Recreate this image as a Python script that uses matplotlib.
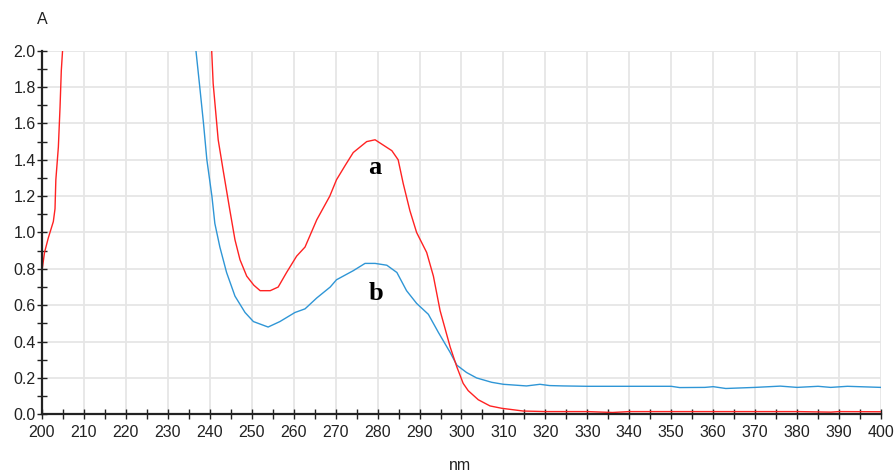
import numpy as np
import matplotlib
matplotlib.use('Agg')
import matplotlib.pyplot as plt
from matplotlib.ticker import MultipleLocator

# curve a (red)
nm_a = [200.0, 200.6, 201.5, 202.7, 203.1, 203.3, 203.9, 204.3, 204.6, 204.9, np.nan,
        240.45, 240.8, 242.0, 243.2, 244.8, 246.0, 247.2, 248.8, 250.5, 252.0, 254.4,
        256.3, 258.3, 260.7, 262.7, 265.5, 268.6, 270.2, 272.3, 274.2, 275.8, 277.4, 279.4,
        281.4, 283.4, 284.9, 286.1, 287.7, 289.3, 291.7, 293.3, 294.9, 297.3, 298.9,
        300.4, 301.6, 304.0, 306.8, 309.6, 314.7, 320, 330, 336, 340, 350, 360, 370,
        380, 388, 390, 400]
abs_a = [0.79, 0.89, 0.97, 1.06, 1.13, 1.29, 1.47, 1.69, 1.89, 2.0, np.nan,
         2.0, 1.82, 1.51, 1.34, 1.12, 0.96, 0.85, 0.76, 0.71, 0.68, 0.68,
         0.70, 0.78, 0.87, 0.92, 1.07, 1.20, 1.29, 1.37, 1.44, 1.47, 1.50, 1.51,
         1.48, 1.45, 1.40, 1.27, 1.12, 1.0, 0.89, 0.76, 0.57, 0.37, 0.26,
         0.17, 0.13, 0.08, 0.046, 0.033, 0.018, 0.015, 0.015, 0.010, 0.015, 0.015, 0.015, 0.015,
         0.015, 0.012, 0.015, 0.014]

# curve b (blue)
nm_b = [236.7, 237.7, 238.5, 239.3, 240.5, 241.2, 242.4, 244.0, 246.0, 248.4, 250.4,
        253.9, 256.7, 260.3, 262.7, 265.5, 268.7, 270.2, 274.2, 277.0, 279.4, 282.2,
        284.6, 286.9, 289.3, 292.1, 294.5, 297.3, 298.9, 301.2, 303.6, 307.2, 310.0,
        315.5, 318.7, 321, 324.3, 330, 340, 350, 352, 358, 360, 363, 370, 376, 380,
        385, 388, 392, 400]
abs_b = [2.0, 1.78, 1.60, 1.40, 1.20, 1.05, 0.92, 0.78, 0.65, 0.56, 0.51,
         0.48, 0.51, 0.56, 0.58, 0.64, 0.70, 0.74, 0.79, 0.83, 0.83, 0.82,
         0.78, 0.68, 0.61, 0.55, 0.45, 0.34, 0.27, 0.23, 0.20, 0.176, 0.165,
         0.156, 0.165, 0.158, 0.156, 0.154, 0.154, 0.154, 0.147, 0.148, 0.152, 0.142, 0.148, 0.155, 0.148,
         0.154, 0.148, 0.154, 0.148]

fig = plt.figure(figsize=(8.96, 4.73), dpi=100)
ax = fig.add_axes([42/896, 1-414.3/473, 839/896, 363.6/473])

ax.plot(nm_b, abs_b, color='#2f96d6', lw=1.0)
ax.plot(nm_a, abs_a, color='#ff2222', lw=1.0)

ax.set_xlim(200, 400)
ax.set_ylim(0, 2.0)
ax.xaxis.set_major_locator(MultipleLocator(10))
ax.xaxis.set_minor_locator(MultipleLocator(5))
ax.yaxis.set_major_locator(MultipleLocator(0.2))
ax.yaxis.set_minor_locator(MultipleLocator(0.1))
ax.yaxis.set_major_formatter(plt.FuncFormatter(lambda v, p: '%.1f' % v))

ax.grid(True, which='major', color='#e6e6e6', lw=1.3)
ax.set_axisbelow(True)
for s in ['top', 'right']:
    ax.spines[s].set_visible(False)
for s in ['left', 'bottom']:
    ax.spines[s].set_color('#222222')
    ax.spines[s].set_linewidth(1.6)
ax.tick_params(which='both', direction='inout', length=7, width=1, color='#222222',
               labelsize=11.5, labelcolor='#222222')
for lab in ax.get_xticklabels() + ax.get_yticklabels():
    lab.set_family('Liberation Sans')
ax.tick_params(axis='x', pad=4)
ax.tick_params(axis='y', pad=1)

ax.text(279.4, 1.355, 'a', family='Liberation Serif', fontweight='bold', fontsize=19,
        ha='center', va='center')
ax.text(279.6, 0.667, 'b', family='Liberation Serif', fontweight='bold', fontsize=19,
        ha='center', va='center')

fig.text(42/896, 1-20/473, 'A', ha='center', va='center', fontsize=11.5,
         family='Liberation Sans', color='#222222')
fig.text(460/896, 1-458/473, 'nm', ha='center', va='top', fontsize=11.5,
         family='Liberation Sans', color='#222222')

fig.savefig('out.png', dpi=100)
